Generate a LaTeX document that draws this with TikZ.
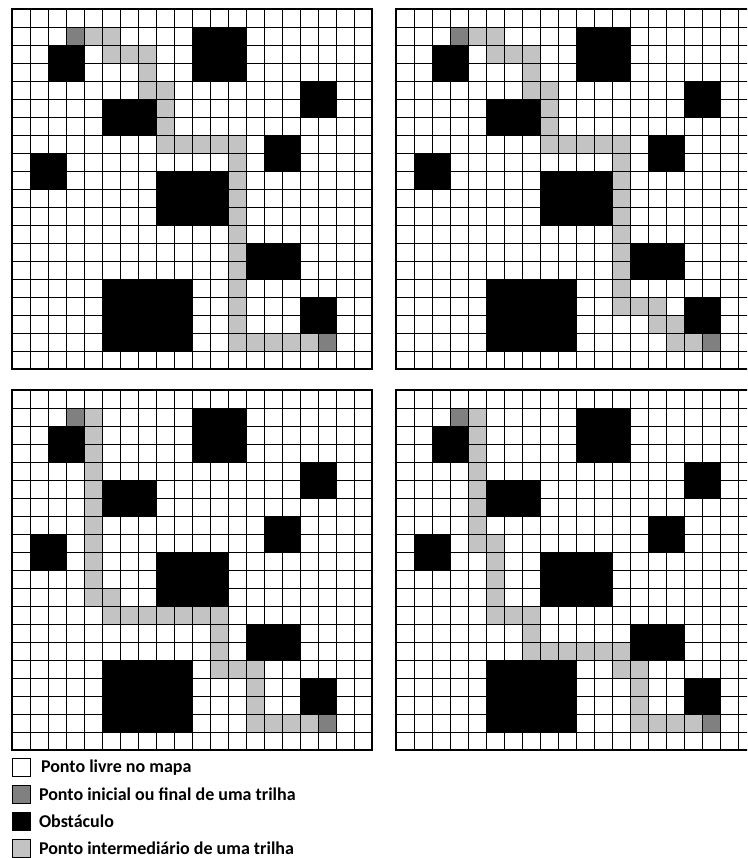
\documentclass[tikz,border=0pt]{standalone}
\usepackage{fontspec}
\setmainfont{Carlito}
\usetikzlibrary{positioning}

\definecolor{pontacor}{RGB}{128,128,128}
\definecolor{meiocor}{RGB}{195,195,195}

\tikzset{
  obst/.style={fill=black},
  ponta/.style={fill=pontacor},
  meio/.style={fill=meiocor},
  malha/.style={line width=0.8pt},
  borda/.style={line width=1.8pt},
  caixa/.style={draw, line width=0.8pt, minimum size=18pt, inner sep=0pt, anchor=north west},
  rotulo/.style={inner sep=0pt, font=\fontsize{18}{21}\selectfont\bfseries}
}

% obstacles and end points shared by all four maps
\newcommand{\obstaculos}{%
  \fill[obst] (10,1) rectangle (13,4);
  \fill[obst] (2,2) rectangle (4,4);
  \fill[obst] (16,4) rectangle (18,6);
  \fill[obst] (5,5) rectangle (8,7);
  \fill[obst] (14,7) rectangle (16,9);
  \fill[obst] (1,8) rectangle (3,10);
  \fill[obst] (8,9) rectangle (12,12);
  \fill[obst] (13,13) rectangle (16,15);
  \fill[obst] (5,15) rectangle (10,19);
  \fill[obst] (16,16) rectangle (18,18);
  \fill[ponta] (3,1) rectangle ++(1,1);
  \fill[ponta] (17,18) rectangle ++(1,1);
}
\newcommand{\malha}{%
  \foreach \i in {1,...,19} {
    \draw[malha] (\i,0) -- (\i,20);
    \draw[malha] (0,\i) -- (20,\i);
  }
  \draw[borda] (0,0) rectangle (20,20);
}

\begin{document}
\begin{tikzpicture}[x=1pt,y=-1pt]
  \useasboundingbox (0,0) rectangle (747,858);
  \clip (0,0) rectangle (747,858);

  % map 1
  \begin{scope}[xshift=12pt, yshift=-9pt, x=18pt, y=-18pt]
    \obstaculos
    \foreach \c/\r in {4/1,5/1,5/2,6/2,7/2,7/3,7/4,8/4,8/5,8/6,8/7,9/7,10/7,11/7,
                       12/7,12/8,12/9,12/10,12/11,12/12,12/13,12/14,12/15,12/16,
                       12/17,12/18,13/18,14/18,15/18,16/18}
      \fill[meio] (\c,\r) rectangle ++(1,1);
    \malha
  \end{scope}

  % map 2
  \begin{scope}[xshift=396pt, yshift=-9pt, x=18pt, y=-18pt]
    \obstaculos
    \foreach \c/\r in {4/1,5/1,5/2,6/2,7/2,7/3,7/4,8/4,8/5,8/6,8/7,9/7,10/7,11/7,
                       12/7,12/8,12/9,12/10,12/11,12/12,12/13,12/14,12/15,12/16,
                       13/16,14/16,14/17,15/17,15/18,16/18}
      \fill[meio] (\c,\r) rectangle ++(1,1);
    \malha
  \end{scope}

  % map 3
  \begin{scope}[xshift=12pt, yshift=-390pt, x=18pt, y=-18pt]
    \obstaculos
    \foreach \c/\r in {4/1,4/2,4/3,4/4,4/5,4/6,4/7,4/8,4/9,4/10,4/11,5/11,
                       5/12,6/12,7/12,8/12,9/12,10/12,11/12,11/13,11/14,11/15,
                       12/15,13/15,13/16,13/17,13/18,14/18,15/18,16/18}
      \fill[meio] (\c,\r) rectangle ++(1,1);
    \malha
  \end{scope}

  % map 4
  \begin{scope}[xshift=396pt, yshift=-390pt, x=18pt, y=-18pt]
    \obstaculos
    \foreach \c/\r in {4/1,4/2,4/3,4/4,4/5,4/6,4/7,4/8,5/8,5/9,5/10,5/11,
                       5/12,6/12,7/12,7/13,7/14,8/14,9/14,10/14,11/14,12/14,
                       12/15,13/15,13/16,13/17,13/18,14/18,15/18,16/18}
      \fill[meio] (\c,\r) rectangle ++(1,1);
    \malha
  \end{scope}

  % legend
  \node[caixa, fill=white] (livre) at (12,758) {};
  \node[caixa, fill=pontacor] (ponta) at (12,785) {};
  \node[caixa, fill=black] (obst) at (12,812) {};
  \node[caixa, fill=meiocor] (meio) at (12,839) {};
  \node[rotulo, right=10pt of livre] (livretxt) {Ponto livre no mapa};
  \node[rotulo, right=8pt of ponta] (pontatxt) {Ponto inicial ou final de uma trilha};
  \node[rotulo, right=8pt of obst] (obsttxt) {Obstáculo};
  \node[rotulo, right=8pt of meio] (meiotxt) {Ponto intermediário de uma trilha};
\end{tikzpicture}
\end{document}
